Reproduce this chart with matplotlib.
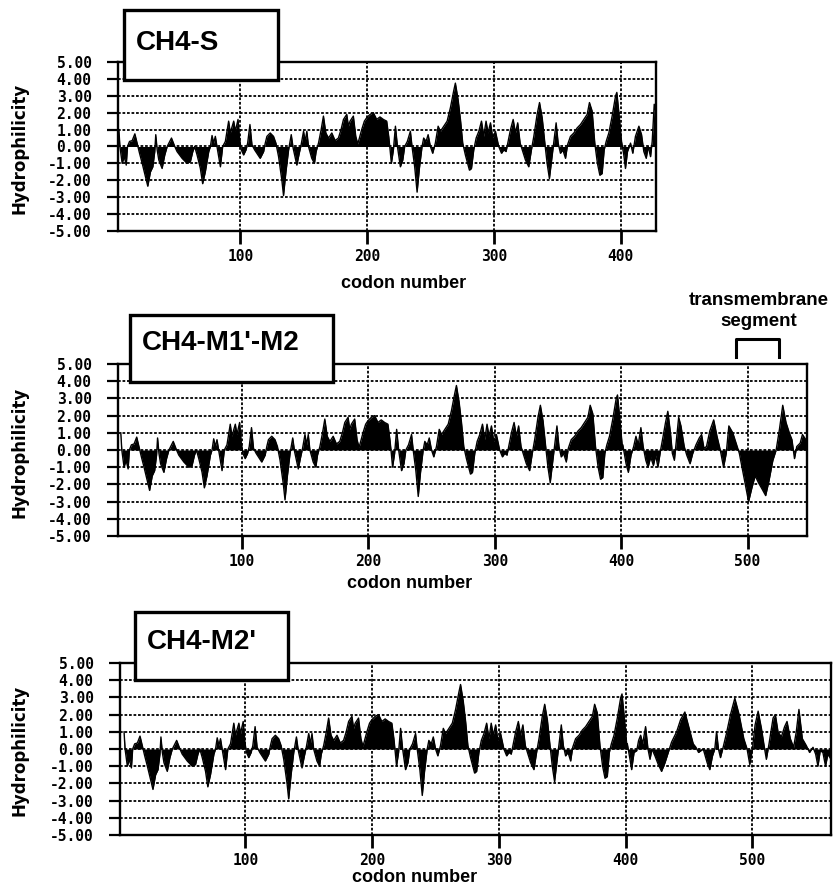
import numpy as np
import matplotlib
matplotlib.use('Agg')
import matplotlib.pyplot as plt
from matplotlib.patches import Rectangle

plt.rcParams['font.family'] = 'DejaVu Sans'
plt.rcParams['axes.linewidth'] = 1.7

#######################################################################
#### Data: hydrophilicity profiles (codon, value) ####################
#######################################################################
# shared N-terminal part (codons ~4-400), identical in the three constructs
core_codon = [4.2, 5, 6.8, 8.4, 10, 11, 12.6, 14.7, 16.8, 18.9, 20.5, 22.6, 25.2, 27, 29.1, 31, 32.5,
              33.3, 34.4, 35.7, 38.3, 40.4, 42.3, 45.7, 48.3, 50.1, 54.1, 58, 60.6, 62.5, 64, 65.9,
              68.5, 70.3, 72.4, 75.1, 76.4, 77.7, 79, 80.3, 81.6, 84.3, 86.1, 88.2, 90.8, 92.1, 94.8,
              96.1, 98.2, 99.5, 100.8, 102.6, 104.5, 105.8, 107.6, 109.2, 111.3, 113.1, 115.7, 118.4,
              119.7, 121, 123.6, 126.2, 128.1, 130.2, 132.8, 134.1, 136, 138.1, 140.2, 141.7, 144.6,
              146.5, 148, 149.9, 151.2, 152.5, 153.8, 156.4, 158.5, 159.8, 161.7, 163.8, 165.6, 167.5,
              169.6, 172.2, 174.8, 177.4, 179.5, 181.4, 184, 185.3, 186.6, 189.2, 191.1, 192.7, 195.8,
              197.9, 199.7, 202.4, 205, 207.6, 210.2, 212.9, 215.5, 217.1, 218.2, 219.2, 220.8, 222.4,
              224, 226.3, 228.2, 229.7, 231.8, 234.2, 235.5, 237.6, 239.5, 241.3, 243.4, 244.7, 246.6,
              248.2, 250, 251.8, 253.9, 256.1, 257.9, 260.5, 263.2, 265.8, 268.4, 269.7, 271.8, 273.7,
              275.5, 277.6, 280.8, 282.4, 284.2, 286.1, 288.2, 290.3, 292.1, 293.9, 295.5, 297.4,
              299.2, 301.3, 303.9, 306.1, 307.9, 309.7, 311.3, 313.2, 315.3, 317.1, 318.9, 320.8,
              322.9, 325, 327.6, 329.7, 331.6, 334.2, 336.1, 338.2, 340.3, 342.1, 343.9, 346.1, 347.6,
              349.2, 350.8, 352.6, 354.5, 356.6, 358.2, 360.5, 363.2, 365.8, 368.4, 371.1, 373.7,
              375.5, 377.6, 379.7, 381.8, 383.7, 385.5, 387.1, 388.7, 390.8, 393.4, 396.1, 397.1,
              398.7, 400.8]
core_hyd = [1.0, 0.0, -1.0, -0.6, -1.1, 0.0, 0.3, 0.35, 0.75, 0.1, -0.4, -1.0, -1.8, -2.35, -1.5, -1.2, -0.3,
            0.7, -0.2, -0.8, -1.3, -0.5, 0.0, 0.5, 0.0, -0.3, -0.7, -1.0, -0.9, -0.3, 0.0, -0.5,
            -1.3, -2.2, -1.5, -0.3, 0.0, 0.65, 0.2, 0.6, 0.0, -1.2, 0.0, 0.3, 1.5, 0.8, 1.5,
            0.9, 1.6, 0.4, -0.2, -0.5, -0.2, 0.2, 1.3, 0.1, -0.2, -0.4, -0.7, -0.3,
            0.2, 0.6, 0.8, 0.6, 0.2, -0.6, -2.0, -2.9, -1.5, -0.2, 0.7, -0.1, -1.1,
            -0.4, 0.1, 0.9, 0.3, 0.9, 0.0, -0.7, -1.0, -0.3, 0.2, 1.0, 1.8, 0.8,
            0.5, 0.8, 0.35, 0.5, 1.0, 1.6, 1.9, 1.2, 1.5, 1.8, 0.6, 0.15, 1.0,
            1.5, 1.7, 1.9, 2.0, 1.6, 1.75, 1.6, 1.5, 0.6, -0.2, -1.0, -0.2, 1.2,
            0.0, -1.2, -0.8, 0.0, 0.3, 0.9, 0.0, -1.2, -2.7, -1.3, 0.0, 0.5, 0.3,
            0.7, 0.0, -0.4, 0.2, 1.2, 0.9, 1.2, 1.5, 2.3, 3.3, 3.75, 2.8, 1.6,
            0.2, -0.5, -1.4, -1.3, -0.2, 0.5, 0.9, 1.5, 0.6, 1.5, 0.8, 1.4,
            0.5, 0.9, 0.0, -0.4, -0.2, -0.3, 0.3, 1.0, 1.6, 0.8, 1.4, 0.2,
            -0.3, -0.8, -1.2, -0.2, 0.6, 1.9, 2.6, 1.7, 0.2, -1.0, -1.9, -0.5, 0.4,
            1.4, 0.2, -0.4, -0.2, -0.7, 0.1, 0.6, 0.8, 1.1, 1.3, 1.6, 1.9,
            2.6, 2.1, 0.2, -1.0, -1.7, -1.6, -0.2, 0.3, 0.8, 1.8, 3.0, 3.2,
            2.0, 0.3]

# C-terminal parts of each construct
s_codon = [402.6, 403.9, 405.5, 407.9, 409.7, 411.8, 414.5, 416.6, 418.4, 420.3, 421.8, 423.7, 425,
           426.6, 428]
s_hyd = [-0.5, -1.3, -0.3, 0.2, -0.4, 0.6, 1.2, 0.7, -0.3, -0.7, 0.0, -0.6, 0.3, 2.5, 2.0]

m1_codon = [401.3, 403.9, 405.7, 407.8, 409.9, 411.7, 413.5, 415.6, 417.4, 419.5, 421.3, 423.4,
            425.5, 427.3, 429.1, 431.2, 433.2, 435.1, 436.9, 439, 440.5, 442.1, 443.6, 445.5,
            447.3, 449.9, 451.9, 454.5, 456.6, 459.2, 461.8, 463.6, 465.5, 467.5, 470.1, 473.2,
            475.8, 478.4, 481, 483.1, 485.2, 488.3, 490.9, 493.5, 496.1, 498.7, 500.8, 503.4,
            506, 508.6, 511.7, 514.3, 516.9, 520, 522.6, 525.2, 527.8, 530.4, 533, 535.1, 537.1,
            538.9, 541.6, 543.4, 547]
m1_hyd = [0.3, -0.8, -1.3, -0.3, 0.2, 0.8, 0.3, 1.3, 0.2, -0.6, -1.0, -0.4,
          -0.9, -0.3, -1.0, 0.0, 0.8, 1.6, 2.25, 1.0, -0.2, -0.6, 0.5, 1.9,
          1.4, 0.2, -0.3, -0.8, -0.2, 0.3, 0.7, 0.9, 0.1, 0.2, 1.1, 1.75,
          0.8, 0.0, -1.0, -0.2, 1.4, 1.0, 0.4, -0.2, -1.2, -2.2, -3.0, -2.2,
          -1.5, -1.9, -2.3, -2.65, -1.8, -0.6, 0.0, 1.2, 2.6, 1.6, 1.0, 0.6, -0.5,
          0.2, 0.4, 0.9, 0.5]

m2_codon = [401.3, 403.4, 404.7, 406.6, 408.7, 410.2, 411.8, 413.4, 415.7, 417.6, 419.2, 420.7,
            423.1, 425.7, 428.3, 431, 433.6, 436.2, 440.2, 443.3, 446.7, 450.1, 453.3, 455.4,
            457.5, 461.2, 464.3, 466.4, 468.5, 470.3, 471.7, 473.2, 474.8, 476.9, 479.5, 482.7,
            486.1, 489.5, 493.2, 495.8, 497.9, 500, 502.1, 504.5, 507.1, 509.2, 511, 513.1, 516.3,
            518.1, 520.2, 522.8, 525.4, 527.3, 529.9, 532.5, 534.6, 536.7, 539.4, 542.5, 545.1,
            547.8, 549.9, 551.7, 553.5, 555.6, 557.7, 559.5, 562]
m2_hyd = [0.3, -0.6, -1.2, -0.2, -0.1, 0.5, 0.8, 0.3, 1.3, 0.0, -0.6, 0.0,
          -0.4, -0.9, -1.3, -0.8, -0.2, 0.4, 1.0, 1.7, 2.15, 1.2, 0.3, 0.1,
          -0.2, 0.0, -0.8, -1.2, -0.4, 0.0, 1.0, 0.0, -0.5, 0.1, 0.9, 2.0,
          2.95, 2.0, 0.6, 0.0, -0.9, 0.0, 1.4, 2.2, 1.2, 0.2, -0.6, 0.3, 1.8,
          2.0, 1.0, 0.7, 1.3, 1.6, 0.6, 0.1, 1.0, 2.3, 0.6, 0.2, -0.2,
          0.1, -0.3, -1.0, -0.1, -0.2, -1.0, -0.3, -0.6]

names = ['CH4-S', "CH4-M1'-M2", "CH4-M2'"]
tails = [(s_codon, s_hyd), (m1_codon, m1_hyd), (m2_codon, m2_hyd)]
xlims = [(3.5, 428), (2, 547), (1, 562)]
yticks = np.arange(-5, 6)

#######################################################################
#### Layout (pixels of the 838x888 original) #########################
#######################################################################
W, H = 838.0, 888.0
# left, right, top, bottom of each axes
ax_px = [(118, 656, 62, 231), (118, 807, 364, 536), (120, 831, 663, 835)]
# label box: left, right, top, bottom
box_px = [(124, 278, 10, 80), (130, 333, 315, 382), (135, 288, 612, 680)]
title_y = [43, 343, 642]
xlab_px = [(404, 283), (410, 583), (415, 877)]
ylab_y = [148, 452, 750]

fig = plt.figure(figsize=(W/100, H/100), dpi=100)

axes = []
for i in range(3):
    l, r, t, b = ax_px[i]
    ax = fig.add_axes([l/W, 1 - b/H, (r - l)/W, (b - t)/H])
    axes.append(ax)
    x = np.array(core_codon + tails[i][0])
    y = np.array(core_hyd + tails[i][1])
    ax.fill_between(x, y, 0, color='black', lw=0, zorder=3)
    ax.plot(x, y, color='black', lw=1.0, zorder=3)
    ax.set_xlim(xlims[i])
    ax.set_ylim(-5, 5)
    ax.set_yticks(yticks)
    ax.set_yticklabels(['%.2f' % v for v in yticks], family='DejaVu Sans Mono', fontsize=10.5,
                       fontweight='bold')
    xt = np.arange(100, xlims[i][1], 100)
    ax.set_xticks(xt)
    ax.set_xticklabels(['%d' % v for v in xt], family='DejaVu Sans Mono', fontsize=10.5,
                       fontweight='bold')
    ax.tick_params(axis='y', direction='out', length=8, width=1.6, pad=11)
    ax.tick_params(axis='x', direction='out', length=9, width=2.0, pad=4)
    ax.grid(True, color='black', ls=(0, (1.5, 1)), lw=1.3, zorder=1)
    ax.set_axisbelow(True)
    fig.text(20/W, 1 - ylab_y[i]/H, 'Hydrophilicity', rotation=90, ha='center', va='center',
             fontsize=12, fontweight='bold')
    fig.text(xlab_px[i][0]/W, 1 - xlab_px[i][1]/H, 'codon number', ha='center', va='center',
             fontsize=13, fontweight='bold', family='Liberation Sans')

    # name box
    bl, br, bt, bb = box_px[i]
    fig.add_artist(Rectangle((bl/W, 1 - bb/H), (br - bl)/W, (bb - bt)/H, transform=fig.transFigure,
                             facecolor='white', edgecolor='black', lw=2.4, zorder=5))
    fig.text((bl + 12)/W, 1 - title_y[i]/H, names[i], ha='left', va='center', fontsize=20,
             fontweight='bold', family='Liberation Sans', zorder=6)

#######################################################################
#### transmembrane bracket on the middle panel #######################
#######################################################################
tm_start, tm_end = 491, 525
ax = axes[1]
ax.plot([tm_start, tm_start, tm_end, tm_end], [5.4, 6.45, 6.45, 5.4], color='black', lw=2.2,
        clip_on=False, zorder=6)
ax.text(509, 8.7, 'transmembrane', ha='center', va='center', fontsize=13.5, fontweight='bold',
        family='Liberation Sans', clip_on=False)
ax.text(509, 7.45, 'segment', ha='center', va='center', fontsize=13.5, fontweight='bold',
        family='Liberation Sans', clip_on=False)

fig.savefig('out.png', dpi=100)
